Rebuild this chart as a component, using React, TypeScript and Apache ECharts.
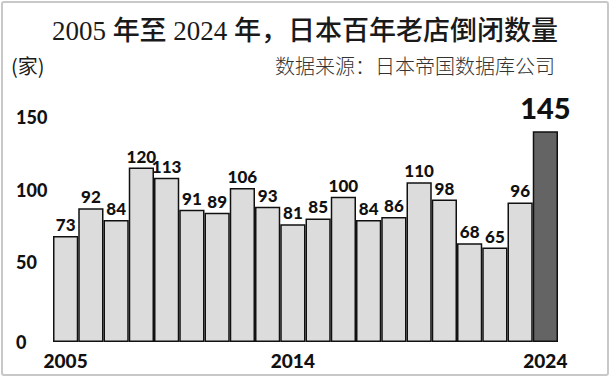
import React, { useEffect, useRef } from "react";
import * as echarts from "echarts";

const years = ["2005","2006","2007","2008","2009","2010","2011","2012","2013","2014","2015","2016","2017","2018","2019","2020","2021","2022","2023","2024"];
const closures = [73, 92, 84, 120, 113, 91, 89, 106, 93, 81, 85, 100, 84, 86, 110, 98, 68, 65, 96, 145];
const shownYearIdx = [0, 9, 19];
const yTicks = { min: 0, max: 150, interval: 50 };

const titleText = "2005 年至 2024 年，日本百年老店倒闭数量";
const unitText = "(家)";
const sourceText = "数据来源：日本帝国数据库公司";

const numFont = "Lato, sans-serif";

export default function App() {
  const ref = useRef<HTMLDivElement>(null);
  useEffect(() => {
    const chart = echarts.init(ref.current!, null, { renderer: "svg" });
    const last = closures.length - 1;
    chart.setOption({
      animation: false,
      backgroundColor: "#ffffff",
      graphic: [
        { type: "rect", shape: { x: 2, y: 2, width: 606, height: 373, r: 2 }, style: { fill: "none", stroke: "#c8c8c8", lineWidth: 2 }, silent: true },
        { type: "text", x: 305, y: 31, style: { text: titleText, font: "500 27px 'Liberation Serif', 'Noto Sans CJK SC', serif", fill: "#1a1a1a", align: "center", verticalAlign: "middle" } },
        { type: "text", x: 11, y: 65, style: { text: unitText, font: "normal 20px 'Noto Sans CJK SC', sans-serif", fill: "#1a1a1a", align: "left", verticalAlign: "middle" } },
        { type: "text", x: 555, y: 65, style: { text: sourceText, font: "300 20px 'Noto Sans CJK SC', sans-serif", fill: "#333", align: "right", verticalAlign: "middle" } },
      ],
      grid: { left: 53, right: 53, top: 124, bottom: 36, containLabel: false },
      xAxis: {
        type: "category",
        data: years,
        axisLine: { show: false },
        axisTick: { show: false },
        axisLabel: {
          interval: (i: number) => shownYearIdx.includes(i),
          margin: 9,
          fontSize: 19,
          fontWeight: 900,
          fontFamily: numFont,
          color: "#111",
        },
      },
      yAxis: {
        type: "value",
        min: yTicks.min,
        max: yTicks.max,
        interval: yTicks.interval,
        splitLine: { show: false },
        axisLine: { show: false },
        axisTick: { show: false },
        axisLabel: {
          align: "left",
          margin: 37,
          formatter: (v: number) => (v === 0 ? `{z|${v}}` : `{n|${v}}`),
          rich: {
            z: { fontSize: 18, fontWeight: 900, fontFamily: numFont, color: "#111" },
            n: { fontSize: 18, fontWeight: 900, fontFamily: numFont, color: "#111", padding: [0, 0, 14, 0] },
          },
        },
      },
      series: [
        {
          type: "bar",
          barCategoryGap: "0%",
          data: closures.map((v, i) =>
            i === last
              ? { value: v, itemStyle: { color: "#646464" }, label: { fontSize: 29, distance: 9 } }
              : v
          ),
          itemStyle: { color: "#dcdcdc", borderColor: "#111", borderWidth: 1.5 },
          label: {
            show: true,
            position: "top",
            distance: 3,
            fontSize: 17,
            fontWeight: 900,
            fontFamily: numFont,
            color: "#111",
          },
        },
      ],
    });
    return () => chart.dispose();
  }, []);
  return <div ref={ref} style={{ position: "absolute", left: 0, top: 0, width: 611, height: 378 }} />;
}
